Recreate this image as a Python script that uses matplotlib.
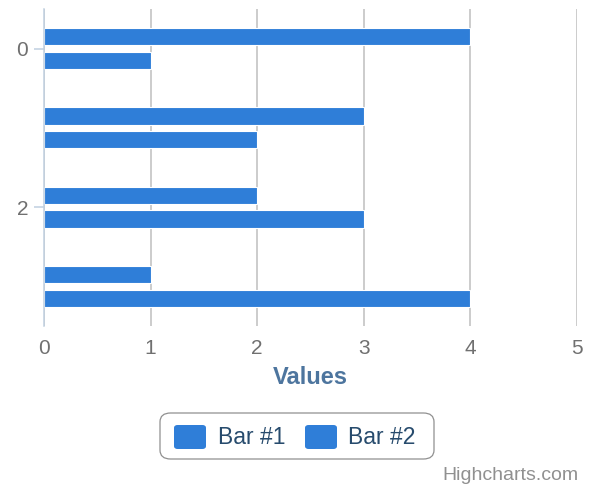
import numpy as np
import matplotlib
matplotlib.use("Agg")
import matplotlib.pyplot as plt
from matplotlib.patches import FancyBboxPatch

plt.rcParams['font.family'] = ['Liberation Sans', 'DejaVu Sans']

# data
categories = [0, 1, 2, 3]
bar1 = [4, 3, 2, 1]
bar2 = [1, 2, 3, 4]
series_names = ["Bar #1", "Bar #2"]
x_ticks = [0, 1, 2, 3, 4, 5]
y_ticks = [0, 2]

W, H = 589, 493
BLUE = '#2f7ed8'


def fx(px):
    return px / W


def fy(py):
    return 1 - py / H


fig = plt.figure(figsize=(W / 100, H / 100), dpi=100)
ax = fig.add_axes([fx(44), fy(326), fx(577) - fx(44), fy(9) - fy(326)])

y = np.array(categories)
ax.barh(y - 0.15, bar1, height=0.22, color=BLUE, edgecolor='white', linewidth=0.8, zorder=3)
ax.barh(y + 0.15, bar2, height=0.22, color=BLUE, edgecolor='white', linewidth=0.8, zorder=3)

ax.set_xlim(0, 5)
ax.set_ylim(3.5, -0.5)
ax.set_xticks(x_ticks)
ax.set_yticks(y_ticks)
ax.set_yticklabels([str(t) for t in y_ticks])

ax.grid(axis='x', color='#cccccc', linewidth=1.4, zorder=0)
ax.set_axisbelow(True)
for s in ['top', 'right', 'bottom']:
    ax.spines[s].set_visible(False)
ax.spines['left'].set_color('#c0d0e0')
ax.spines['left'].set_linewidth(1.1)
ax.spines['left'].set_zorder(4)

ax.tick_params(axis='x', length=0, pad=9, labelsize=15, labelcolor='#707070')
ax.tick_params(axis='y', length=7.5, width=1.1, color='#c0d0e0', pad=4, labelsize=15, labelcolor='#707070')

fig.text(fx(310.5), fy(378), "Values", ha='center', va='center', fontsize=17,
         fontweight='bold', color='#4d759e')

# legend box
box = FancyBboxPatch((fx(160), fy(459)), fx(434) - fx(160), fy(413) - fy(459),
                     boxstyle="round,pad=0,rounding_size=0.018", transform=fig.transFigure,
                     facecolor='white', edgecolor='#909090', linewidth=0.9)
fig.patches.append(box)
for name, sx, tx in zip(series_names, [174, 305], [218, 348]):
    sym = FancyBboxPatch((fx(sx), fy(449)), fx(32), fy(425) - fy(449),
                         boxstyle="round,pad=0,rounding_size=0.006", transform=fig.transFigure,
                         facecolor=BLUE, edgecolor='none')
    fig.patches.append(sym)
    fig.text(fx(tx), fy(437), name, ha='left', va='center', fontsize=16.5, color='#274b6d')

fig.text(fx(578), fy(475), "Highcharts.com", ha='right', va='center', fontsize=14, color='#909090')

fig.savefig("out.png", dpi=100)
